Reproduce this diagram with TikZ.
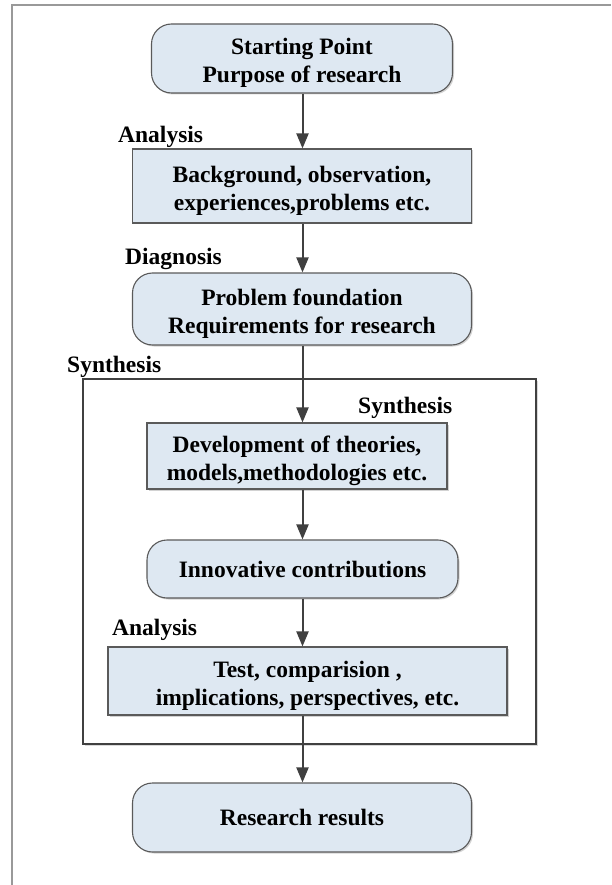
\documentclass[tikz,border=0pt]{standalone}
\usepackage{fontspec}
\setmainfont{Liberation Serif}
\usetikzlibrary{arrows.meta,shadows}
\definecolor{boxfill}{HTML}{DEE8F2}
\definecolor{boxline}{HTML}{5A5A5A}
\definecolor{linkcol}{HTML}{404040}
\begin{document}
\begin{tikzpicture}[x=1pt,y=-1pt,
  txt/.style={font=\fontsize{23.5}{28}\selectfont\bfseries, align=center},
  base/.style={txt, draw=boxline, line width=1.1pt, fill=boxfill, inner sep=0pt,
    drop shadow={shadow xshift=1.5pt, shadow yshift=-1.5pt, opacity=0.35, fill=gray}},
  twoline/.style={text height=54pt, text depth=5pt},
  roundbox/.style={base, rounded corners=20pt},
  squarebox/.style={base},
  tag/.style={font=\fontsize{23.5}{28}\selectfont\bfseries, inner sep=0pt, anchor=base west},
  arr/.style={draw=linkcol, line width=2pt,
    -{Triangle[length=15pt, width=12pt]}, shorten >=0pt}
]
\useasboundingbox (0,0) rectangle (611,885);
% page frame
\draw[gray!80, line width=1.5pt] (12,885) -- (12,5) -- (611,5);

% flow boxes
\node[roundbox, twoline, minimum width=301pt, minimum height=69pt] (start) at (302,58.5)
  {Starting Point\\Purpose of research};
\node[squarebox, twoline, minimum width=339pt, minimum height=74pt] (bg) at (302,186)
  {Background, observation,\\experiences,problems etc.};
\node[roundbox, twoline, minimum width=339pt, minimum height=72pt] (prob) at (302,309)
  {Problem foundation\\Requirements for research};

% synthesis frame
\node[draw=linkcol, fill=white, line width=2pt, inner sep=0pt, minimum width=453pt, minimum height=365pt,
  drop shadow={shadow xshift=1.5pt, shadow yshift=-1.5pt, opacity=0.3, fill=gray}]
  (frame) at (309.5,561.5) {};

\node[squarebox, twoline, minimum width=300pt, minimum height=66pt] (dev) at (297,456)
  {Development of theories,\\models,methodologies etc.};
\node[roundbox, minimum width=311pt, minimum height=58pt] (innov) at (302.5,569)
  {Innovative contributions};
\node[squarebox, twoline, minimum width=399pt, minimum height=68pt] (test) at (307.5,681)
  {Test, comparision ,\\implications, perspectives, etc.};
\node[roundbox, minimum width=339pt, minimum height=69pt] (res) at (302,817.5)
  {Research results};

% stage labels
\node[tag] (lanalysis) at (118,143) {Analysis};
\node[tag] (ldiag) at (125,264) {Diagnosis};
\node[tag] (lsynout) at (67,372.5) {Synthesis};
\node[tag] (lsynin) at (358,413) {Synthesis};
\node[tag] (lanalysis2) at (112,635) {Analysis};

% connectors
\draw[arr] (start.south -| innov) -- (bg.north -| innov);
\draw[arr] (bg.south -| innov) -- (prob.north -| innov);
\draw[arr] (prob.south -| innov) -- (dev.north -| innov);
\draw[arr] (dev.south -| innov) -- (innov.north);
\draw[arr] (innov.south) -- (test.north -| innov);
\draw[arr] (test.south -| innov) -- (res.north -| innov);
\end{tikzpicture}
\end{document}
